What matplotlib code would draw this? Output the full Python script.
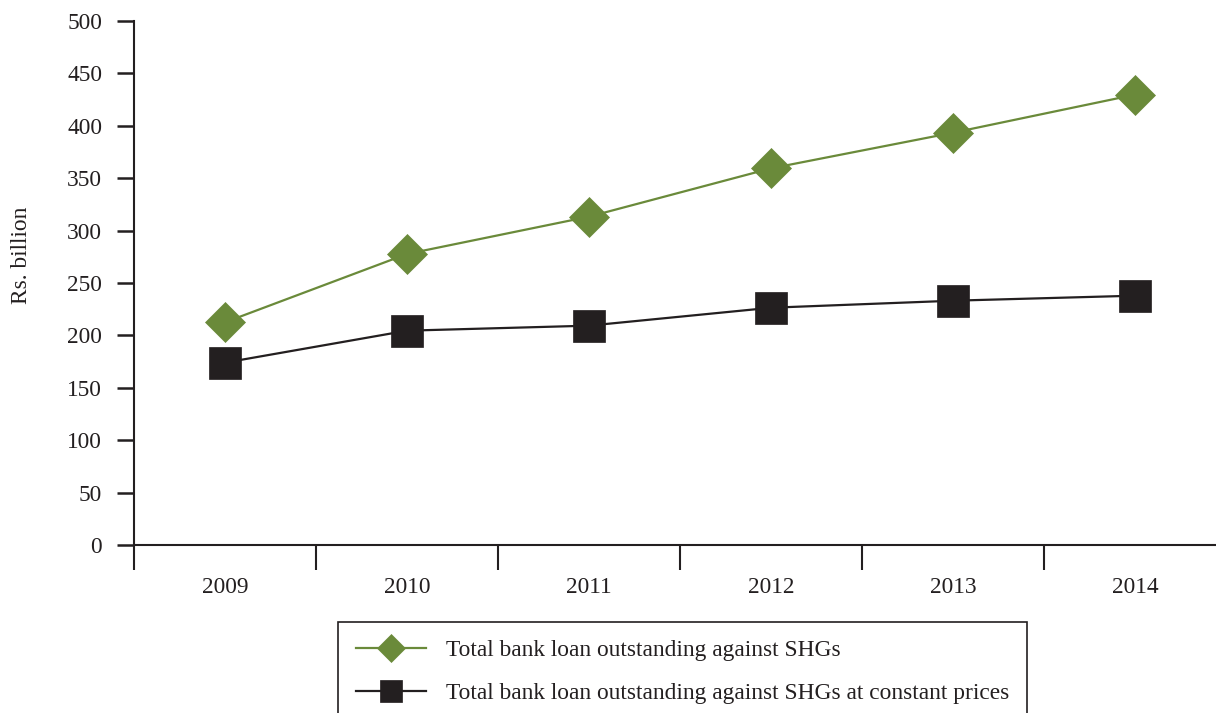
import matplotlib
matplotlib.use("Agg")
import matplotlib.pyplot as plt
from matplotlib.ticker import FixedLocator, NullFormatter

years = ["2009", "2010", "2011", "2012", "2013", "2014"]
loan_total = [212.5, 277.7, 313.3, 359.4, 393.4, 429.7]
loan_constant = [174.0, 204.5, 209.3, 226.4, 233.1, 237.9]
yticks = [0, 50, 100, 150, 200, 250, 300, 350, 400, 450, 500]
label_total = "Total bank loan outstanding against SHGs"
label_constant = "Total bank loan outstanding against SHGs at constant prices"

GREEN = "#6a8a3a"
DARK = "#231f20"
FS = 16.8

plt.rcParams["font.family"] = ["Liberation Serif", "DejaVu Serif"]

W, H = 1216, 713
fig = plt.figure(figsize=(W / 100, H / 100), dpi=100)
ax = fig.add_axes([134 / W, 1 - 545 / H, (1226 - 134) / W, (545 - 21) / H])

x = list(range(len(years)))
ax.plot(x, loan_total, color=GREEN, lw=1.6, marker="D", ms=20,
        mfc=GREEN, mec=GREEN, mew=0.5, label=label_total, clip_on=False)
ax.plot(x, loan_constant, color=DARK, lw=1.6, marker="s", ms=22.5,
        mfc=DARK, mec=DARK, mew=0.5, label=label_constant, clip_on=False)

ax.set_xlim(-0.5, len(years) - 0.5)
ax.set_ylim(0, 500)
ax.set_yticks(yticks)
ax.set_yticklabels([str(v) for v in yticks], fontsize=FS, color=DARK)

ax.set_xticks(x)
ax.set_xticklabels(years, fontsize=FS, color=DARK)
ax.xaxis.set_minor_locator(FixedLocator([i - 0.5 for i in range(len(years) + 1)]))
ax.xaxis.set_minor_formatter(NullFormatter())
ax.tick_params(axis="x", which="major", length=0, pad=23)
ax.tick_params(axis="x", which="minor", length=18, width=1.5, color=DARK, direction="out")
ax.tick_params(axis="y", which="major", length=12, width=1.8, color=DARK, direction="out", pad=11)

for s in ["top", "right"]:
    ax.spines[s].set_visible(False)
for s in ["left", "bottom"]:
    ax.spines[s].set_color(DARK)
    ax.spines[s].set_linewidth(1.5)

ax.set_ylabel("Rs. billion", fontsize=FS, color=DARK, va="center")
ax.yaxis.set_label_coords((22 - 134) / (1226 - 134), (545 - 255) / (545 - 21))

leg = ax.legend(loc="upper left", bbox_to_anchor=(338 / W, 1 - 622 / H),
                bbox_transform=fig.transFigure, borderaxespad=0,
                frameon=True, fancybox=False, edgecolor=DARK, framealpha=1,
                fontsize=FS, handlelength=3.0, handletextpad=0.9,
                borderpad=0.75, labelspacing=0.95, markerscale=0.7)
leg.get_frame().set_linewidth(1.2)
for t in leg.get_texts():
    t.set_color(DARK)

fig.savefig("out.png", dpi=100)
